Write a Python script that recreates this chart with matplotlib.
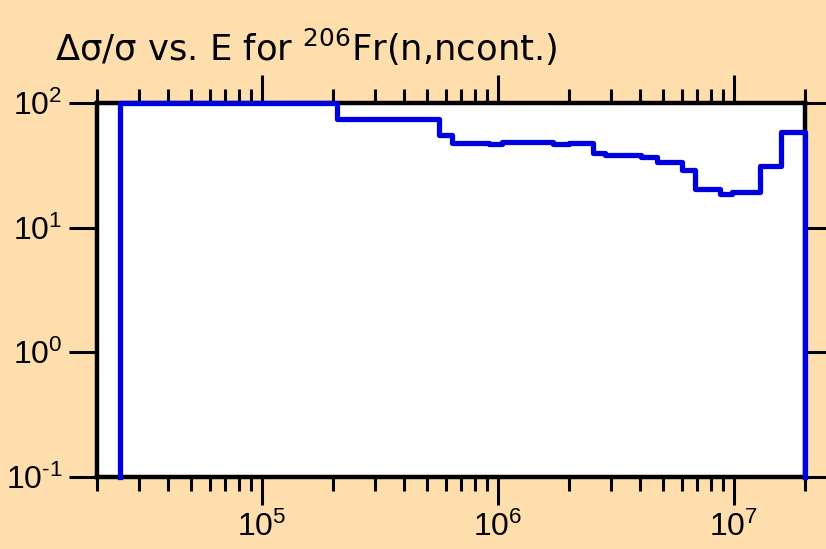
import numpy as np
import matplotlib.pyplot as plt
from matplotlib.ticker import LogLocator, FixedLocator, NullFormatter

plt.rcParams['font.family'] = ['Liberation Sans', 'DejaVu Sans']
plt.rcParams['mathtext.fontset'] = 'custom'
plt.rcParams['mathtext.rm'] = 'Liberation Sans'
plt.rcParams['mathtext.it'] = 'Liberation Sans:italic'
plt.rcParams['mathtext.bf'] = 'Liberation Sans:bold'

# bin edges (eV) and relative uncertainty per bin (%)
edges = [2.5e4, 2.07e5, 5.6e5, 6.4e5, 9.2e5, 1.04e6, 1.71e6, 2.0e6, 2.52e6,
         2.84e6, 4.05e6, 4.7e6, 6.0e6, 6.84e6, 8.7e6, 9.8e6, 1.29e7, 1.59e7, 2.0e7]
unc = [100, 74, 55, 48, 46.5, 49, 46.8, 47.5, 40,
       38.5, 37, 33.8, 29, 20.3, 18.5, 19.2, 31, 59]

x_ticks = [1e5, 1e6, 1e7]
x_labels = ['$\\mathregular{10^{5}}$', '$\\mathregular{10^{6}}$', '$\\mathregular{10^{7}}$']
y_ticks = [1e-1, 1e0, 1e1, 1e2]
y_labels = ['$\\mathregular{10^{\\text{-}1}}$', '$\\mathregular{10^{0}}$',
            '$\\mathregular{10^{1}}$', '$\\mathregular{10^{2}}$']

bg = '#FFDEAD'
fig = plt.figure(figsize=(8.26, 5.49), dpi=100, facecolor=bg)
ax = fig.add_axes([97 / 826, 1 - 477 / 549, 708 / 826, 374 / 549])
ax.set_facecolor('white')

# step outline: rises from the bottom at the first edge, falls at the last
xs = [edges[0]] + edges + [edges[-1]]
ys = [0.1] + unc + [unc[-1], 0.1]
ax.step(xs, ys, where='post', color='#0000DD', lw=3.8, clip_on=False, zorder=3)

ax.set_xscale('log')
ax.set_yscale('log')
ax.set_xlim(2e4, 2e7)
ax.set_ylim(0.1, 100)

ax.xaxis.set_major_locator(FixedLocator(x_ticks))
ax.set_xticklabels(x_labels)
ax.xaxis.set_minor_locator(LogLocator(base=10, subs=np.arange(2, 10)))
ax.xaxis.set_minor_formatter(NullFormatter())
ax.yaxis.set_major_locator(FixedLocator(y_ticks))
ax.set_yticklabels(y_labels)
ax.yaxis.set_minor_locator(FixedLocator([]))

ax.tick_params(which='both', direction='out', top=True, right=True,
               colors='black', width=2.2, labelsize=23)
ax.tick_params(which='major', length=20, pad=5)
ax.tick_params(which='minor', length=10)

for s in ax.spines.values():
    s.set_linewidth(3.2)
    s.set_color('black')

fig.text(55 / 826, 1 - 61 / 549, 'Δσ/σ vs. E for $\\mathregular{^{206}}$Fr(n,ncont.)',
         fontsize=25.5, family=['DejaVu Sans'], ha='left', va='baseline')

fig.savefig('out.png', dpi=100, facecolor=bg)
